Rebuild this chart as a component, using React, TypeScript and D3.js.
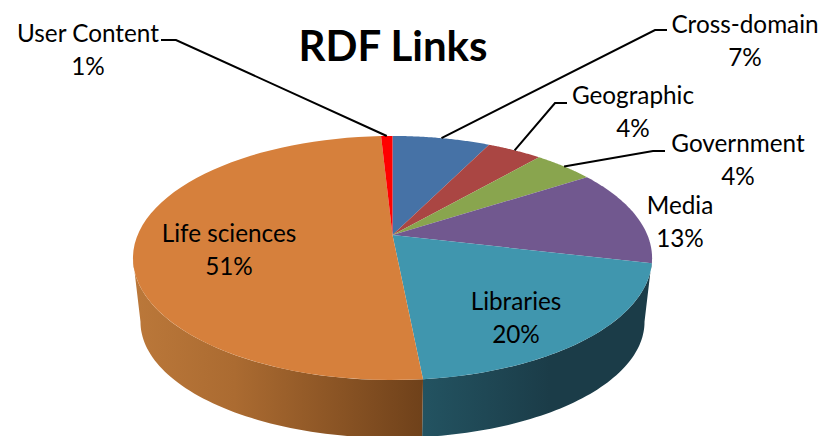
import React from "react";
import * as d3 from "d3";

const categories = ["Cross-domain", "Geographic", "Government", "Media", "Libraries", "Life sciences", "User Content"];
// estimated shares, the printed labels round these
const shares = [7.3, 4.1, 4.49, 12.81, 19.75, 50.7, 0.85];
const topColors = ["#4672a6", "#aa4643", "#89a54e", "#71588f", "#4096ae", "#d6803c", "#ff0000"];

const width = 833;
const height = 436;
const cx = 392.5;
const k = 0.1885; // perspective of the tilted disc

const pieLayout = d3.pie<number>().sort(null).value((d) => d);
const slices = pieLayout(shares);

type Disc = { rx: number; ry: number; y: number };
const topDisc: Disc = { rx: 254.9, ry: 117.7, y: 235 };
const bottomDisc: Disc = { rx: 247.5, ry: 111.9, y: 300 };

const project = (disc: Disc, a: number): [number, number] => {
  const u = Math.sin(a);
  const v = -Math.cos(a);
  const s = 1 / (1 - k * v);
  return [cx + disc.rx * u * s, disc.y + disc.ry * v * s];
};

const arcPoints = (disc: Disc, a0: number, a1: number) =>
  d3.range(0, 61).map((i) => project(disc, a0 + ((a1 - a0) * i) / 60));

const line = d3.line();

const topSlice = (a0: number, a1: number) =>
  line([[cx, topDisc.y], ...arcPoints(topDisc, a0, a1)])! + "Z";

const sideSlice = (a0: number, a1: number) =>
  line([...arcPoints(topDisc, a0, a1), ...arcPoints(bottomDisc, a1, a0)])! + "Z";

// where the text sits, per category: [centre x, first baseline]
const labelPos: [number, number][] = [
  [745, 33],
  [633, 104],
  [738, 152],
  [680, 214],
  [516, 310],
  [229, 242],
  [88, 42],
];
// leader lines: elbow and end of the short horizontal bit, null when the label is on the slice
const leaders: ([number, number, number] | null)[] = [
  [655, 30, 667],
  [555, 103, 567],
  [653, 151, 665],
  null,
  null,
  null,
  [176, 40, 161],
];

// the disc is widest at these angles, the wall runs between them
const rightEdge = Math.acos(-k);
const leftEdge = Math.PI * 2 - rightEdge;

export default function App() {
  return (
    <svg
      width={width}
      height={height}
      style={{ position: "absolute", left: 0, top: 0, background: "#fff" }}
      fontFamily="Lato"
    >
      <defs>
        <linearGradient id="sideOrange" gradientUnits="userSpaceOnUse" x1={133} x2={423} y1={0} y2={0}>
          <stop offset="0" stopColor="#bb783a" />
          <stop offset="0.35" stopColor="#ab6b31" />
          <stop offset="1" stopColor="#6f411a" />
        </linearGradient>
        <linearGradient id="sideTeal" gradientUnits="userSpaceOnUse" x1={423} x2={550} y1={0} y2={0}>
          <stop offset="0" stopColor="#235361" />
          <stop offset="1" stopColor="#1b3c48" />
        </linearGradient>
      </defs>

      <path d={sideSlice(rightEdge, slices[4].endAngle)} fill="url(#sideTeal)" />
      <path d={sideSlice(slices[5].startAngle, leftEdge)} fill="url(#sideOrange)" />

      {slices.map((s, i) => (
        <path key={categories[i]} d={topSlice(s.startAngle, s.endAngle)} fill={topColors[i]} />
      ))}

      {slices.map((s, i) => {
        const l = leaders[i];
        if (!l) return null;
        const start = project(topDisc, (s.startAngle + s.endAngle) / 2);
        return (
          <polyline
            key={categories[i]}
            points={`${start[0]},${start[1]} ${l[0]},${l[1]} ${l[2]},${l[1]}`}
            fill="none"
            stroke="#000"
            strokeWidth={2}
          />
        );
      })}

      <text x={393} y={61} textAnchor="middle" fontSize={42} fontWeight={700} fill="#000">
        RDF Links
      </text>

      {categories.map((c, i) => (
        <g key={c} textAnchor="middle" fontSize={24.3} fill="#000">
          <text x={labelPos[i][0]} y={labelPos[i][1]}>
            {c}
          </text>
          <text x={labelPos[i][0]} y={labelPos[i][1] + 33}>
            {Math.round(shares[i])}%
          </text>
        </g>
      ))}
    </svg>
  );
}
